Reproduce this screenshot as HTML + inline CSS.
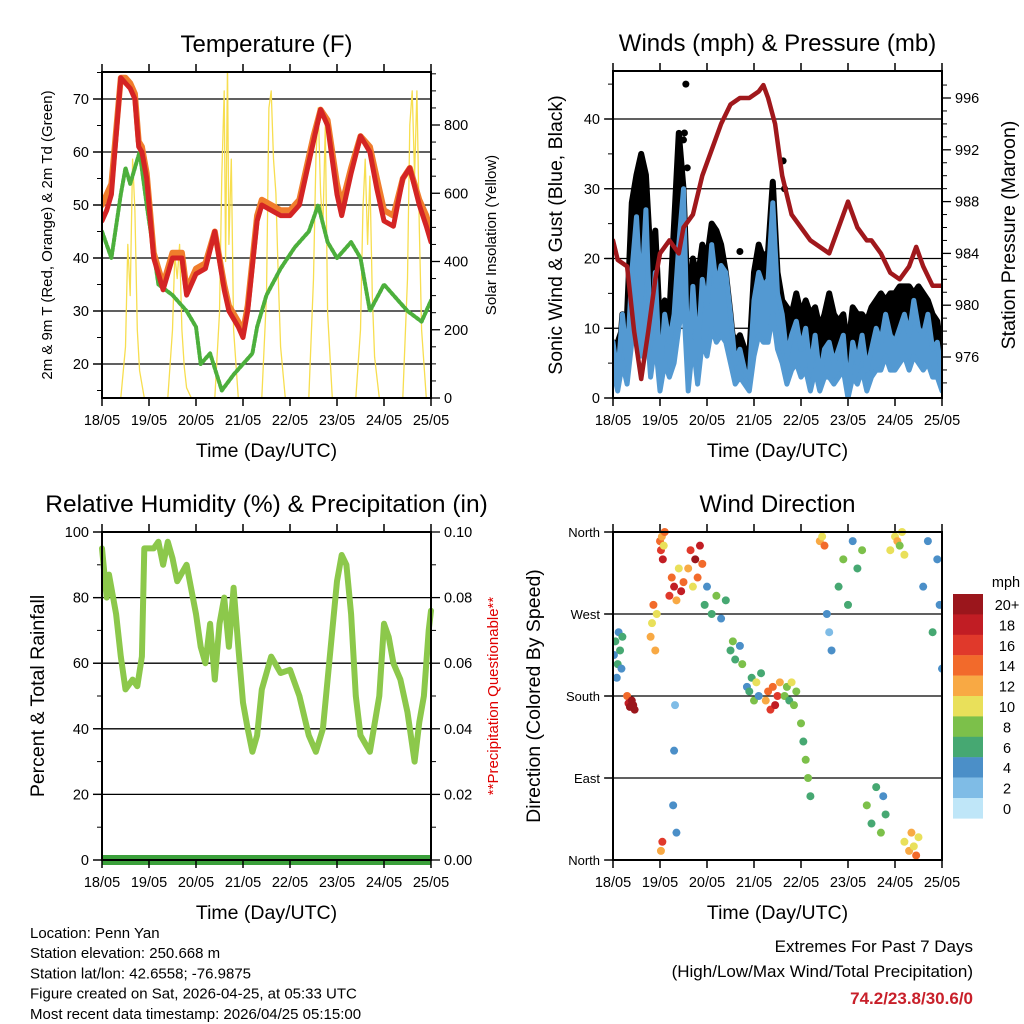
<!DOCTYPE html>
<html><head><meta charset="utf-8"><style>
body{margin:0;background:#fff}
svg{display:block;font-family:"Liberation Sans",sans-serif}
</style></head><body>
<svg id="fig" width="1024" height="1024" viewBox="0 0 1024 1024">
<rect width="1024" height="1024" fill="#fff"/>
</svg>
<script>
// ---------- DATA ----------
const dayLabels = ["18/05","19/05","20/05","21/05","22/05","23/05","24/05","25/05"];
const tempT = [0,0.1,0.2,0.3,0.4,0.5,0.6,0.7,0.78,0.85,0.95,1.1,1.3,1.5,1.7,1.8,2.0,2.2,2.4,2.6,2.7,2.9,3.0,3.1,3.3,3.4,3.6,3.8,4.0,4.2,4.35,4.5,4.65,4.8,5.0,5.1,5.3,5.5,5.7,5.85,6.0,6.2,6.4,6.55,6.75,6.9,7.0];
const temp2m = [47,49,52,63,74,73,72,70,61,60,55,40,34,40,40,33,37,38,45,34,30,27,25,30,47,50,49,48,48,50,56,62,68,65,52,48,56,63,60,53,47,46,55,57,50,46,43];
const temp9m = [50,52,54,64,74,74,73,71,62,61,56,41,35,41,41,34,38,39,45,35,31,28,26,31,48,51,50,49,49,51,57,63,68,66,54,50,57,63,61,55,49,48,55,57,51,48,45];
const dewT = [0,0.2,0.4,0.5,0.6,0.7,0.8,0.95,1.2,1.5,1.8,2.0,2.1,2.3,2.55,2.8,3.0,3.2,3.3,3.5,3.8,4.1,4.4,4.6,4.8,5.0,5.3,5.5,5.7,6.0,6.3,6.5,6.8,7.0];
const dewV = [45,40,52,57,54,57,60,50,35,33,30,27,20,22,15,18,20,22,27,33,38,42,45,50,43,40,43,40,30,35,32,30,28,32];
const solarT = [0,0.4,0.5,0.55,0.6,0.65,0.7,0.75,0.8,0.9,1.4,1.5,1.55,1.6,1.65,1.7,1.75,1.8,1.9,2.4,2.5,2.55,2.6,2.63,2.67,2.7,2.75,2.8,2.9,3.4,3.5,3.55,3.6,3.65,3.7,3.75,3.8,3.9,4.4,4.5,4.55,4.6,4.65,4.7,4.75,4.8,4.9,5.4,5.5,5.55,5.6,5.65,5.7,5.75,5.8,5.9,6.4,6.5,6.55,6.6,6.65,6.7,6.75,6.8,6.9,7.0];
const solarV = [0,0,150,450,300,700,550,200,80,0,0,200,420,350,450,200,90,30,0,0,250,650,900,400,980,450,700,200,0,0,300,850,900,700,600,350,150,0,0,350,700,850,600,500,800,250,0,0,200,550,700,450,650,300,120,0,0,350,800,900,650,900,500,200,0,0];
const windT = [];
for (let i = 0; i <= 70; i++) windT.push(i / 10);
const windSpd = [8,3,12,5,18,26,14,27,8,18,3,12,8,12,22,30,3,16,6,17,13,22,16,19,18,12,5,7,4,3,14,18,16,17,28,15,12,6,9,11,7,10,4,9,3,7,8,5,7,9,1,8,5,9,4,7,10,8,12,9,8,10,12,9,14,10,9,12,7,8,3];
const windLow = [4,1,5,2,8,12,6,12,3,8,1,5,3,5,10,14,1,8,2,8,6,10,8,9,8,5,2,3,2,1,6,9,8,8,12,7,5,2,4,5,3,4,1,4,1,3,3,2,3,4,0,3,2,4,1,3,4,4,6,4,4,5,6,4,6,5,4,5,3,3,1];
const windGust = [7,8,10,12,28,32,35,32,20,24,10,14,12,25,38,30,12,20,17,22,20,25,24,22,18,10,8,9,7,6,18,22,20,21,31,18,14,13,12,15,12,14,12,13,10,12,15,12,11,12,7,13,12,12,11,13,14,15,14,15,15,16,16,16,15,16,15,14,12,11,6];
const gustOutT = [1.52,1.55,1.5,1.58,3.62,3.65,2.7];
const gustOutV = [38,45,37,33,34,30,21];
const presT = [0,0.1,0.3,0.45,0.6,0.75,0.9,1.0,1.2,1.4,1.5,1.7,1.9,2.1,2.3,2.5,2.7,2.9,3.1,3.2,3.3,3.45,3.6,3.8,4.0,4.2,4.4,4.6,4.8,5.0,5.2,5.4,5.5,5.7,5.9,6.1,6.3,6.45,6.6,6.8,7.0];
const presV = [985,983.5,983,978,974.3,978,982,984,985,984,986,987,990,992,994,995.5,996,996,996.5,997,996,994,990,987,986,985,984.5,984,986,988,986,985,985,984,982.5,982,983,984.5,983,981.5,981.5];
const rhT = [0,0.1,0.15,0.3,0.4,0.5,0.65,0.75,0.85,0.9,1.1,1.2,1.3,1.4,1.5,1.6,1.8,2.0,2.1,2.2,2.3,2.4,2.5,2.6,2.7,2.8,2.9,3.0,3.1,3.2,3.3,3.4,3.6,3.8,4.0,4.2,4.4,4.55,4.7,4.8,5.0,5.1,5.2,5.3,5.4,5.5,5.7,5.9,6.0,6.1,6.2,6.35,6.5,6.65,6.75,6.85,6.95,7.0];
const rhV = [95,80,87,75,62,52,55,53,62,95,95,97,90,97,92,85,90,75,65,60,72,55,72,80,65,83,65,48,40,33,38,52,62,57,58,50,38,33,40,55,85,93,90,75,50,38,33,50,72,68,60,55,45,30,42,50,70,76];
const precipV = [0,0,0,0,0,0,0,0];
const wdT = [0.02,0.05,0.08,0.1,0.12,0.15,0.18,0.2, 0.3,0.33,0.36,0.4,0.43,0.46, 0.8,0.83,0.86,0.9,0.93, 1.0,1.02,1.04,1.06,1.08,1.1, 1.02,1.05, 1.2,1.25,1.3,1.35,1.4,1.45,1.5, 1.28,1.3,1.32,1.35, 1.6,1.65,1.7,1.75,1.8,1.85,1.9, 1.95,2.0,2.1,2.2,2.3,2.4, 2.5,2.55,2.6,2.7,2.75, 2.85,2.9,2.95,3.0,3.05,3.1,3.15, 3.25,3.3,3.35,3.4,3.45,3.5,3.55, 3.65,3.7,3.75,3.8,3.85,3.9, 4.0,4.05,4.1,4.15,4.2, 4.4,4.45,4.5, 4.55,4.6,4.65, 4.8,4.9,5.0,5.1,5.2,5.3, 5.4,5.5,5.6,5.7,5.75,5.8, 5.9,6.0,6.05,6.1,6.15,6.2, 6.2,6.3,6.35,6.4,6.45,6.5, 6.6,6.7,6.8,6.9,6.95,7.0];
const wdDir = [225,240,200,215,250,230,210,245, 180,172,168,175,170,165, 245,260,280,230,270, 350,340,355,330,345,360, 10,20, 290,310,300,285,320,295,305, 60,120,170,30, 320,340,300,330,310,345,325, 280,300,270,290,265,285, 230,240,220,235,215, 190,185,200,175,195,180,205, 175,185,165,190,170,180,195, 180,190,175,195,170,185, 150,130,110,90,70, 350,355,345, 270,250,230, 300,330,280,350,320,340, 60,40,80,30,70,50, 340,355,350,345,360,335, 20,10,30,15,5,25, 300,350,250,330,280,210];
const wdSpd = [4,5,3,6,4,5,3,6, 14,18,20,20,19,21, 12,10,14,11,9, 14,16,12,18,10,13, 12,16, 16,14,18,12,10,17,14, 3,4,2,3, 12,16,10,20,14,18,13, 5,4,6,8,3,5, 6,7,5,4,8, 4,6,5,7,9,3,6, 12,14,16,13,18,15,11, 7,8,6,9,7,8, 7,6,8,7,5, 12,10,14, 3,2,3, 5,7,6,4,6,7, 7,6,5,8,4,6, 9,10,11,8,10,9, 10,12,11,9,13,10, 4,3,5,4,3,4];
const cbLabels = ["20+","18","16","14","12","10","8","6","4","2","0"];
const cbColors = ["#9b161c","#c11d24","#e0392b","#f26a2b","#f8a944","#e9e05a","#7cc04a","#46a872","#4b8fc8","#7fbce6","#bfe6f8"];

// ---------- HELPERS ----------
const svg = document.getElementById('fig');
const NS = 'http://www.w3.org/2000/svg';
function el(tag, attrs, parent, text) {
  const e = document.createElementNS(NS, tag);
  for (const k in attrs) e.setAttribute(k, attrs[k]);
  if (text !== undefined) e.textContent = text;
  (parent || svg).appendChild(e);
  return e;
}
function mkScale(d0, d1, r0, r1) { return v => r0 + (v - d0) * (r1 - r0) / (d1 - d0); }
function poly(xs, ys, sx, sy, attrs, parent, name) {
  const pts = xs.map((t, i) => sx(t).toFixed(1) + ',' + sy(ys[i]).toFixed(1)).join(' ');
  const p = el('polyline', Object.assign({points: pts, fill: 'none', 'stroke-linejoin': 'round', 'stroke-linecap': 'round'}, attrs), parent);
  
  
  return p;
}
function band(xs, lo, hi, sx, sy, attrs, parent, name) {
  const a = xs.map((t, i) => sx(t).toFixed(1) + ',' + sy(hi[i]).toFixed(1));
  const b = xs.map((t, i) => sx(t).toFixed(1) + ',' + sy(lo[i]).toFixed(1)).reverse();
  const p = el('polygon', Object.assign({points: a.concat(b).join(' ')}, attrs), parent);
  
  
  return p;
}
function txt(x, y, s, size, anchor, parent, name, extra) {
  const t = el('text', Object.assign({x: x, y: y, 'font-size': size, 'text-anchor': anchor || 'middle', fill: '#000'}, extra || {}), parent, s);
  
  
  return t;
}
function panelFrame(g, x0, x1, y0, y1, sx, title, xTitle, tsize) {
  dayLabels.forEach((lab, i) => {
    const x = sx(i);
    const tk = el('line', {x1: x, x2: x, y1: y1, y2: y1 + 8, stroke: '#000', 'stroke-width': 1.5}, g);
    
    
    const tt = el('line', {x1: x, x2: x, y1: y0, y2: y0 - 8, stroke: '#000', 'stroke-width': 1.5}, g);
    
    
    txt(x, y1 + 27, lab, 14.5, 'middle', g, 'x-tick-label');
  });
  txt((x0 + x1) / 2, y1 + 59, xTitle, 19.5, 'middle', g, 'x-axis-title');
  txt((x0 + x1) / 2, y0 - 20, title, tsize || 24, 'middle', g, 'panel-title');
}
function border(g, x0, x1, y0, y1) {
  const r = el('rect', {x: x0, y: y0, width: x1 - x0, height: y1 - y0, fill: 'none', stroke: '#000', 'stroke-width': 2}, g);
  
  
}
function yAxis(g, vals, labels, sy, x, side, grid, gx0, gx1, size) {
  vals.forEach((v, i) => {
    const y = sy(v);
    if (grid) {
      const gl = el('line', {x1: gx0, x2: gx1, y1: y, y2: y, stroke: '#000', 'stroke-width': 1.3}, g);
      
      
    }
    const tk = el('line', {x1: x, x2: x + (side === 'left' ? -9 : 9), y1: y, y2: y, stroke: '#000', 'stroke-width': 1.3}, g);
    
    
    txt(side === 'left' ? x - 13 : x + 13, y + 5, labels[i], size || 14.5, side === 'left' ? 'end' : 'start', g, 'y-tick-label');
  });
}
function minorY(g, vals, sy, x, side) {
  vals.forEach(v => {
    const y = sy(v);
    const tk = el('line', {x1: x, x2: x + (side === 'left' ? -5 : 5), y1: y, y2: y, stroke: '#000', 'stroke-width': 1}, g);
    
    
  });
}
function rotTxt(x, y, s, size, parent, name, color) {
  const t = el('text', {x: 0, y: 0, 'font-size': size, 'text-anchor': 'middle', fill: color || '#000', transform: `translate(${x},${y}) rotate(-90)`}, parent, s);
  
  
}

// ---------- PANEL 1: TEMPERATURE ----------
(function () {
  const g = el('g', {});  
  const x0 = 102, x1 = 431, y0 = 72, y1 = 398;
  const sx = mkScale(0, 7, x0, x1);
  const sy = mkScale(20, 70, 364, 99);
  const sr = mkScale(0, 800, 398, 125);
  yAxis(g, [20,30,40,50,60,70], ["20","30","40","50","60","70"], sy, x0, 'left', true, 93, x1);
  minorY(g, [15,25,35,45,55,65,75], sy, x0, 'left');
  yAxis(g, [0,200,400,600,800], ["0","200","400","600","800"], sr, x1, 'right', false);
  minorY(g, [50,100,150,250,300,350,450,500,550,650,700,750,850,900,950], sr, x1, 'right');
  const clip = el('clipPath', {id: 'c1'}, g); el('rect', {x: x0, y: y0, width: x1 - x0, height: y1 - y0}, clip);
  const d = el('g', {'clip-path': 'url(#c1)'}, g);  
  poly(solarT, solarV, sx, sr, {stroke: '#f7de4f', 'stroke-width': 1.3}, d, 'solar-insolation-line');
  poly(dewT, dewV, sx, sy, {stroke: '#4caf3c', 'stroke-width': 4, 'stroke-dasharray': '3 2'}, d, 'dewpoint-line');
  poly(tempT, temp9m, sx, sy, {stroke: '#f07d2c', 'stroke-width': 6}, d, 'temp-9m-line');
  poly(tempT, temp2m, sx, sy, {stroke: '#d42424', 'stroke-width': 5}, d, 'temp-2m-line');
  border(g, x0, x1, y0, y1);
  panelFrame(g, x0, x1, y0, y1, sx, 'Temperature (F)', 'Time (Day/UTC)');
  rotTxt(52, 235, '2m & 9m T (Red, Orange) & 2m Td (Green)', 15, g, 'left-axis-title');
  rotTxt(496, 235, 'Solar Insolation (Yellow)', 15, g, 'right-axis-title');
})();

// ---------- PANEL 2: WINDS ----------
(function () {
  const g = el('g', {});  
  const x0 = 613, x1 = 942, y0 = 71, y1 = 398;
  const sx = mkScale(0, 7, x0, x1);
  const sy = mkScale(0, 40, 398, 119);
  const sp = mkScale(976, 996, 357, 98);
  yAxis(g, [0,10,20,30,40], ["0","10","20","30","40"], sy, x0, 'left', true, 605, x1);
  minorY(g, [5,15,25,35,45], sy, x0, 'left');
  yAxis(g, [976,980,984,988,992,996], ["976","980","984","988","992","996"], sp, x1, 'right', false);
  minorY(g, [974,975,977,978,979,981,982,983,985,986,987,989,990,991,993,994,995,997], sp, x1, 'right');
  const clip = el('clipPath', {id: 'c2'}, g); el('rect', {x: x0, y: y0, width: x1 - x0, height: y1 - y0}, clip);
  const d = el('g', {'clip-path': 'url(#c2)'}, g);  
  band(windT, windSpd, windGust, sx, sy, {fill: '#000', stroke: '#000', 'stroke-width': 6, 'stroke-linejoin': 'round'}, d, 'gust-band');
  gustOutT.forEach((t, i) => {
    const c = el('circle', {cx: sx(t), cy: sy(gustOutV[i]), r: 3.5, fill: '#000'}, d);
    
    
  });
  band(windT, windLow, windSpd, sx, sy, {fill: '#5399d2', stroke: '#5399d2', 'stroke-width': 5, 'stroke-linejoin': 'round'}, d, 'wind-speed-band');
  poly(presT, presV, sx, sp, {stroke: '#a0181c', 'stroke-width': 4.5}, d, 'pressure-line');
  border(g, x0, x1, y0, y1);
  panelFrame(g, x0, x1, y0, y1, sx, 'Winds (mph) & Pressure (mb)', 'Time (Day/UTC)');
  rotTxt(562, 235, 'Sonic Wind & Gust (Blue, Black)', 19.5, g, 'left-axis-title');
  rotTxt(1015, 235, 'Station Pressure (Maroon)', 19.5, g, 'right-axis-title');
})();

// ---------- PANEL 3: RH ----------
(function () {
  const g = el('g', {});  
  const x0 = 102, x1 = 431, y0 = 532, y1 = 860;
  const sx = mkScale(0, 7, x0, x1);
  const sy = mkScale(0, 100, 860, 532);
  const sp = mkScale(0, 0.1, 860, 532);
  yAxis(g, [0,20,40,60,80,100], ["0","20","40","60","80","100"], sy, x0, 'left', true, 93, x1);
  minorY(g, [10,30,50,70,90], sy, x0, 'left');
  yAxis(g, [0,0.02,0.04,0.06,0.08,0.1], ["0.00","0.02","0.04","0.06","0.08","0.10"], sp, x1, 'right', false);
  minorY(g, [0.01,0.03,0.05,0.07,0.09], sp, x1, 'right');
  const clip = el('clipPath', {id: 'c3'}, g); el('rect', {x: x0 - 4, y: y0, width: x1 - x0 + 8, height: y1 - y0 + 6}, clip);
  const d = el('g', {'clip-path': 'url(#c3)'}, g);  
  poly(rhT, rhV, sx, sy, {stroke: '#8cc84b', 'stroke-width': 6}, d, 'rh-line');
  poly([0,1,2,3,4,5,6,7], precipV, sx, sp, {stroke: '#3ba03b', 'stroke-width': 10, 'stroke-linecap': 'butt'}, d, 'precip-line');
  border(g, x0, x1, y0, y1);
  panelFrame(g, x0, x1, y0, y1, sx, 'Relative Humidity (%) & Precipitation (in)', 'Time (Day/UTC)', 24.5);
  rotTxt(44, 696, 'Percent & Total Rainfall', 19.5, g, 'left-axis-title');
  rotTxt(498, 696, '**Precipitation Questionable**', 15, g, 'right-axis-title', '#e00000');
})();

// ---------- PANEL 4: WIND DIRECTION ----------
(function () {
  const g = el('g', {});  
  const x0 = 613, x1 = 942, y0 = 532, y1 = 860;
  const sx = mkScale(0, 7, x0, x1);
  const sy = mkScale(0, 360, 860, 532);
  yAxis(g, [0,90,180,270,360], ["North","East","South","West","North"], sy, x0, 'left', true, 605, x1, 13);
  const clip = el('clipPath', {id: 'c4'}, g); el('rect', {x: x0, y: y0 - 4, width: x1 - x0, height: y1 - y0 + 8}, clip);
  const d = el('g', {'clip-path': 'url(#c4)'}, g);  
  const colorFor = s => cbColors[10 - Math.min(10, Math.round(s / 2))];
  wdT.forEach((t, i) => {
    const c = el('circle', {cx: sx(t), cy: sy(wdDir[i]), r: 4, fill: colorFor(wdSpd[i])}, d);
    
    
  });
  border(g, x0, x1, y0, y1);
  panelFrame(g, x0, x1, y0, y1, sx, 'Wind Direction', 'Time (Day/UTC)');
  rotTxt(540, 696, 'Direction (Colored By Speed)', 19.5, g, 'left-axis-title');
  const cb = el('g', {}, g);  
  txt(1006, 587, 'mph', 14.5, 'middle', cb, 'colorbar-title');
  cbColors.forEach((c, i) => {
    const r = el('rect', {x: 953, y: 594 + i * 20.4, width: 30, height: 20.6, fill: c}, cb);
    
    
    txt(1007, 610 + i * 20.4, cbLabels[i], 14.5, 'middle', cb, 'colorbar-label');
  });
})();

// ---------- FOOTER ----------
const info = ["Location: Penn Yan","Station elevation: 250.668 m","Station lat/lon: 42.6558; -76.9875","Figure created on Sat, 2026-04-25, at 05:33 UTC","Most recent data timestamp: 2026/04/25 05:15:00"];
info.forEach((s, i) => txt(30, 938 + i * 20.2, s, 15, 'start', svg, 'station-info-line'));
txt(973, 952, 'Extremes For Past 7 Days', 17, 'end', svg, 'extremes-title');
txt(973, 977, '(High/Low/Max Wind/Total Precipitation)', 17, 'end', svg, 'extremes-subtitle');
txt(973, 1004, '74.2/23.8/30.6/0', 17, 'end', svg, 'extremes-values', {fill: '#c8202a', 'font-weight': 'bold'});
</script>
</body></html>
